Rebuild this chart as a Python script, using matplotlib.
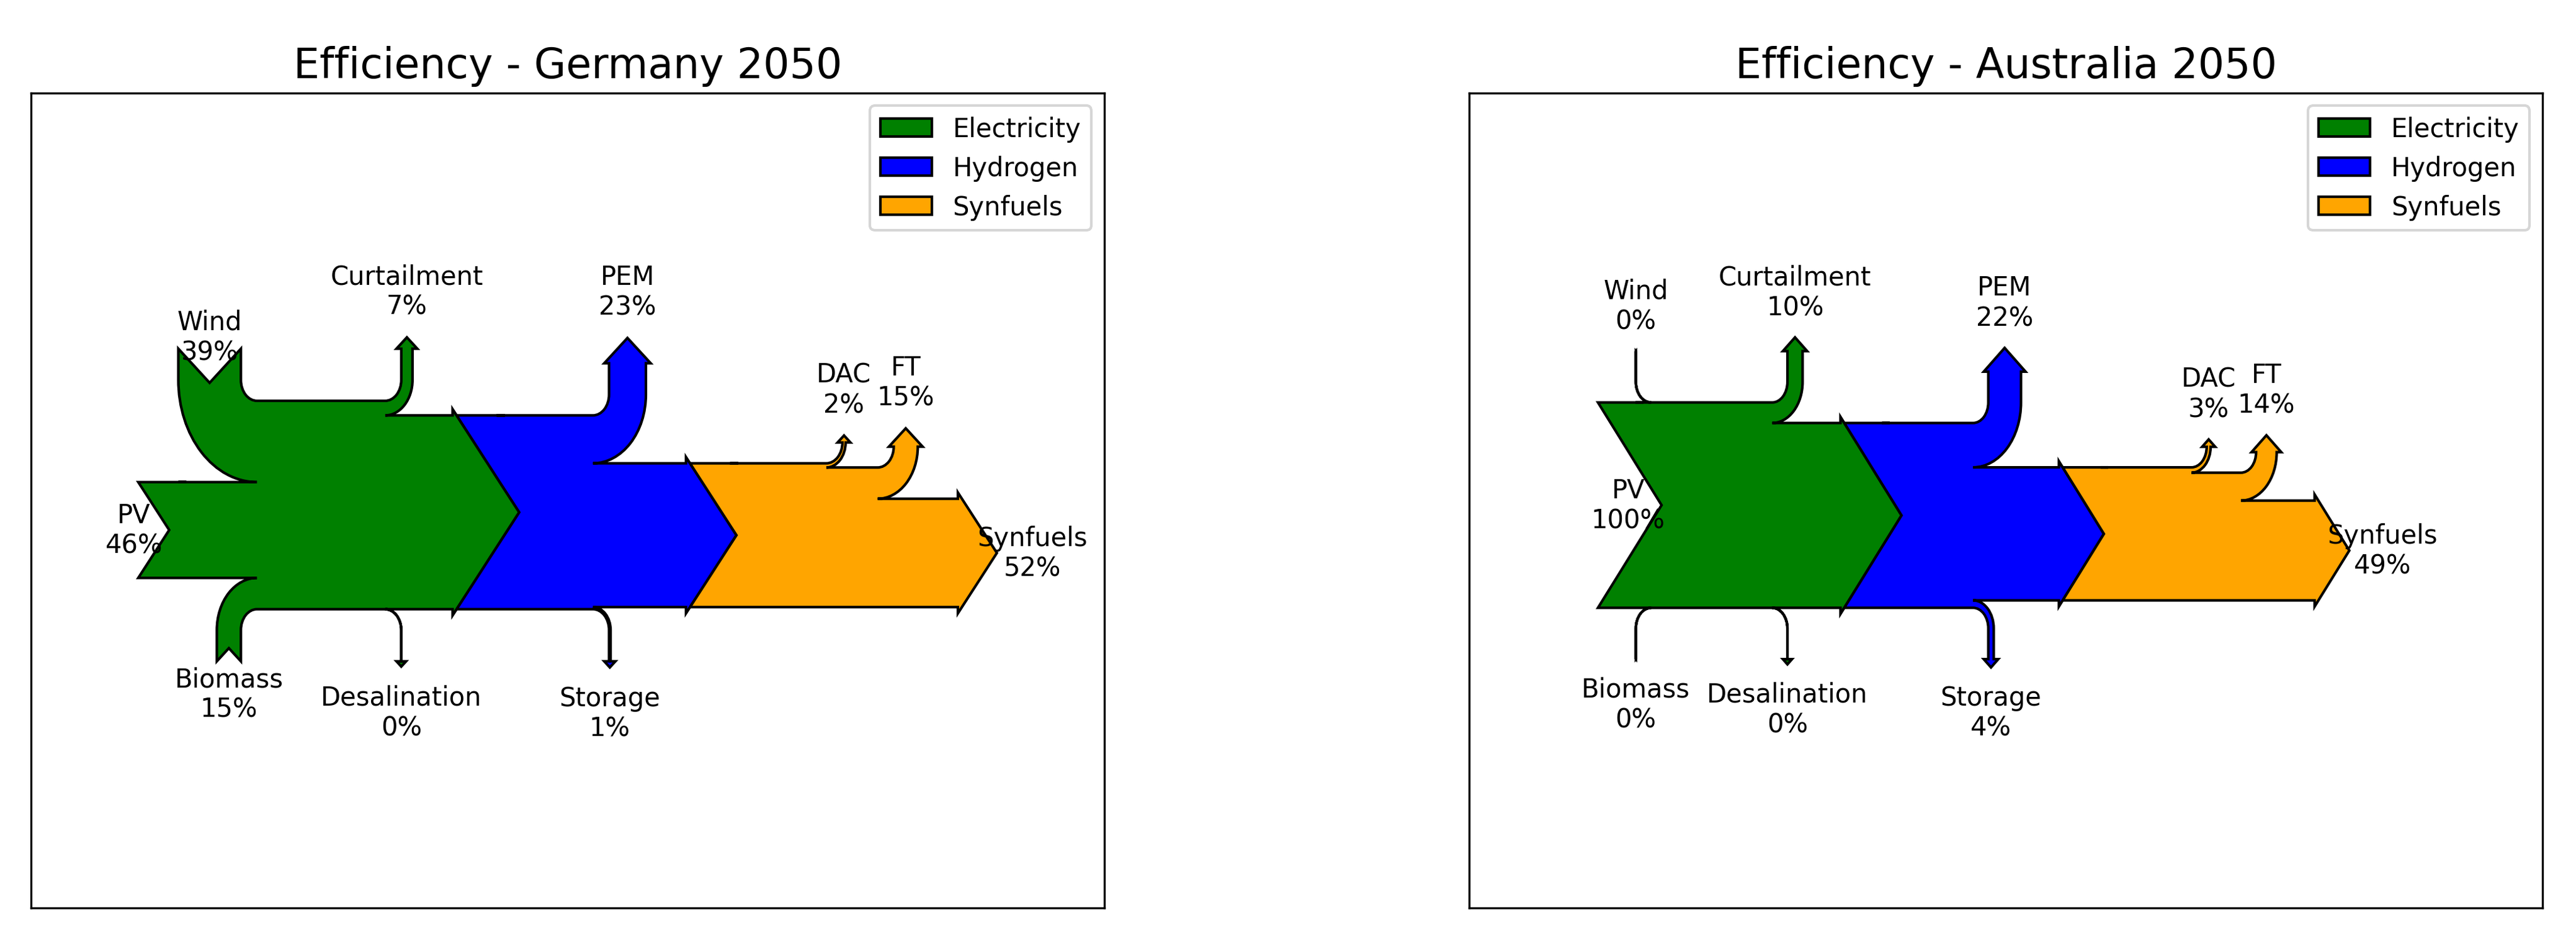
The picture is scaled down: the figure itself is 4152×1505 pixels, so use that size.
import matplotlib
matplotlib.use("Agg")
import numpy as np
import matplotlib.pyplot as plt
from matplotlib.sankey import Sankey
from matplotlib.patches import Patch

titles = ["Efficiency - Germany 2050", "Efficiency - Australia 2050"]
# electricity inputs (Wind, PV, Biomass), losses, hydrogen outputs, synfuel outputs (%)
wind = [39, 0]
pv = [46, 100]
biomass = [15, 0]
curtailment = [7, 10]
desalination = [0, 0]
pem = [23, 21.6]
storage = [1, 3.6]
dac = [2, 2.6]
ft = [15, 13.6]

colors = {"Electricity": "green", "Hydrogen": "blue", "Synfuels": "orange"}
# where the drawn patches should sit inside each axes (fractions)
xfrac = [(0.10, 0.90), (0.12, 0.82)]
yfrac = (0.295, 0.70)


def nz(v):
    # zero flows get dropped by Sankey; keep a hairline so the arrow and "0%" show
    return v if v > 0 else 0.01


fig, axes = plt.subplots(1, 2, figsize=(13.84, 5.02))
fig.subplots_adjust(left=0.012, right=0.987, top=0.90, bottom=0.028, wspace=0.34)
for i, ax in enumerate(axes):
    elec_total = wind[i] + pv[i] + biomass[i]
    to_h2 = elec_total - curtailment[i] - desalination[i]
    to_syn = to_h2 - pem[i] - storage[i]
    synfuels = to_syn - dac[i] - ft[i]

    sk = Sankey(ax=ax, scale=1 / 100, unit="%", format="%.0f", gap=0.3, offset=0.22)
    sk.add(flows=[nz(wind[i]), nz(pv[i]), nz(biomass[i]), -nz(curtailment[i]),
                  -nz(desalination[i]), -to_h2],
           orientations=[1, 0, -1, 1, -1, 0],
           labels=["Wind", "PV", "Biomass", "Curtailment", "Desalination", None],
           pathlengths=[0.25, 0.25, 0.25, 0.25, 0.25, 0.25],
           facecolor=colors["Electricity"], edgecolor="black")
    sk.add(flows=[to_h2, -pem[i], -storage[i], -to_syn],
           orientations=[0, 1, -1, 0],
           labels=[None, "PEM", "Storage", None],
           pathlengths=[0.25, 0.25, 0.25, 0.25],
           prior=0, connect=(5, 0),
           facecolor=colors["Hydrogen"], edgecolor="black")
    sk.add(flows=[to_syn, -dac[i], -ft[i], -synfuels],
           orientations=[0, 1, 1, 0],
           labels=[None, "DAC", "FT", "Synfuels"],
           pathlengths=[0.25, 0.1, 0.1, 0.25],
           prior=1, connect=(3, 0),
           facecolor=colors["Synfuels"], edgecolor="black")
    diagrams = sk.finish()

    verts = np.vstack([d.patch.get_path().vertices for d in diagrams])
    x0, y0 = verts.min(axis=0)
    x1, y1 = verts.max(axis=0)
    fx0, fx1 = xfrac[i]
    w = (x1 - x0) / (fx1 - fx0)
    h = (y1 - y0) / (yfrac[1] - yfrac[0])
    ax.set_aspect("auto")
    ax.set_xlim(x0 - fx0 * w, x0 - fx0 * w + w)
    ax.set_ylim(y0 - yfrac[0] * h, y0 - yfrac[0] * h + h)

    ax.set_title(titles[i], fontsize=16)
    ax.set_xticks([])
    ax.set_yticks([])
    ax.legend(handles=[Patch(facecolor=c, edgecolor="black", label=k) for k, c in colors.items()],
              loc="upper right")

plt.savefig("out.png", dpi=300)
